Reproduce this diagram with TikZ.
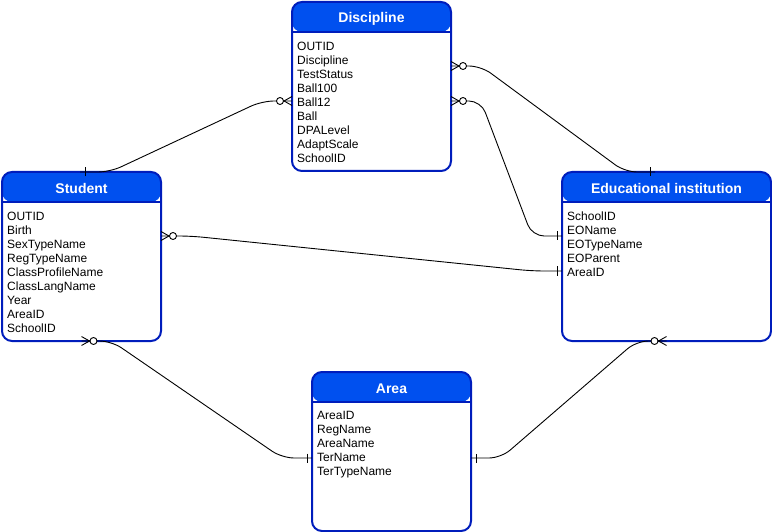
\documentclass[tikz,border=0pt]{standalone}
\usepackage{fontspec}
\setmainfont{Liberation Sans}
\definecolor{headblue}{HTML}{0050EF}
\definecolor{lineblue}{HTML}{001DBC}
\begin{document}
\begin{tikzpicture}[x=1pt,y=-1pt,
    entity/.style={draw=lineblue,line width=2pt,rounded corners=10pt,outer sep=0pt,fill=white,
        path picture={\fill[headblue] (path picture bounding box.north west) rectangle ([yshift=-30pt]path picture bounding box.north east);
        \draw[lineblue,line width=1.5pt] ([yshift=-30pt]path picture bounding box.north west) -- ([yshift=-30pt]path picture bounding box.north east);}},
    title/.style={text=white,inner sep=0pt,font=\fontsize{14}{16}\selectfont\bfseries},
    fields/.style={anchor=north west,inner sep=0pt,align=left,font=\fontsize{12}{14}\selectfont},
    rel/.style={black,line width=0.9pt,rounded corners=12pt},
    zeromany/.pic={\draw[line width=0.9pt] (0pt,-4.5pt) -- (8pt,0pt) -- (0pt,4.5pt); \draw[line width=0.9pt,fill=white] (12pt,0pt) circle (3.5pt);},
    onebar/.pic={\draw[line width=0.9pt] (5pt,-4.5pt) -- (5pt,4.5pt);}]
        \useasboundingbox (0,0) rectangle (772,532);

        \node[entity,minimum width=159pt,minimum height=169pt] (disc) at (371.5,86.5) {};
        \node[entity,minimum width=159pt,minimum height=169pt] (student) at (81.5,256.5) {};
        \node[entity,minimum width=209pt,minimum height=169pt] (edu) at (666.5,256.5) {};
        \node[entity,minimum width=159pt,minimum height=159pt] (area) at (391.5,451.5) {};

        \node[title] (disctitle) at ([yshift=-16.5pt]disc.north) {Discipline};
        \node[title] (studenttitle) at ([yshift=-16.5pt]student.north) {Student};
        \node[title] (edutitle) at ([yshift=-16.5pt]edu.north) {Educational institution};
        \node[title] (areatitle) at ([yshift=-16.5pt]area.north) {Area};

        \node[fields] (discfields) at ([xshift=5pt,yshift=-39.5pt]disc.north west) {OUTID\\Discipline\\TestStatus\\Ball100\\Ball12\\Ball\\DPALevel\\AdaptScale\\SchoolID};
        \node[fields] (studentfields) at ([xshift=5pt,yshift=-39.5pt]student.north west) {OUTID\\Birth\\SexTypeName\\RegTypeName\\ClassProfileName\\ClassLangName\\Year\\AreaID\\SchoolID};
        \node[fields] (edufields) at ([xshift=5pt,yshift=-39.5pt]edu.north west) {SchoolID\\EOName\\EOTypeName\\EOParent\\AreaID};
        \node[fields] (areafields) at ([xshift=5pt,yshift=-39.5pt]area.north west) {AreaID\\RegName\\AreaName\\TerName\\TerTypeName};

        \draw[rel] ([xshift=-1.5pt]student.north) -- ++(30,0) -- ([xshift=-30pt,yshift=-14.5pt]disc.west) -- ([yshift=-14.5pt]disc.west);
        \draw[rel] ([yshift=20.5pt]disc.east) -- ++(30,0) -- ([xshift=-41.5pt]edu.north) -- ([xshift=-11.5pt]edu.north);
        \draw[rel] ([yshift=-14.5pt]disc.east) -- ++(30,0) -- ([xshift=-30pt,yshift=20.5pt]edu.west) -- ([yshift=20.5pt]edu.west);
        \draw[rel] ([yshift=20.5pt]student.east) -- ++(30,0) -- ([xshift=-30pt,yshift=-14.5pt]edu.west) -- ([yshift=-14.5pt]edu.west);
        \draw[rel] (student.south) -- ++(30,0) -- ([xshift=-30pt,yshift=-6.5pt]area.west) -- ([yshift=-6.5pt]area.west);
        \draw[rel] ([yshift=-6.5pt]area.east) -- ++(30,0) -- ([xshift=-30pt]edu.south) -- (edu.south);

        \pic at ([xshift=-1.5pt]student.north) {onebar};
        \pic[rotate=180] at ([yshift=-14.5pt]disc.west) {zeromany};
        \pic at ([yshift=20.5pt]disc.east) {zeromany};
        \pic[rotate=180] at ([xshift=-11.5pt]edu.north) {onebar};
        \pic at ([yshift=-14.5pt]disc.east) {zeromany};
        \pic[rotate=180] at ([yshift=20.5pt]edu.west) {onebar};
        \pic at ([yshift=20.5pt]student.east) {zeromany};
        \pic[rotate=180] at ([yshift=-14.5pt]edu.west) {onebar};
        \pic at (student.south) {zeromany};
        \pic[rotate=180] at ([yshift=-6.5pt]area.west) {onebar};
        \pic at ([yshift=-6.5pt]area.east) {onebar};
        \pic[rotate=180] at (edu.south) {zeromany};
    \end{tikzpicture}
\end{document}
